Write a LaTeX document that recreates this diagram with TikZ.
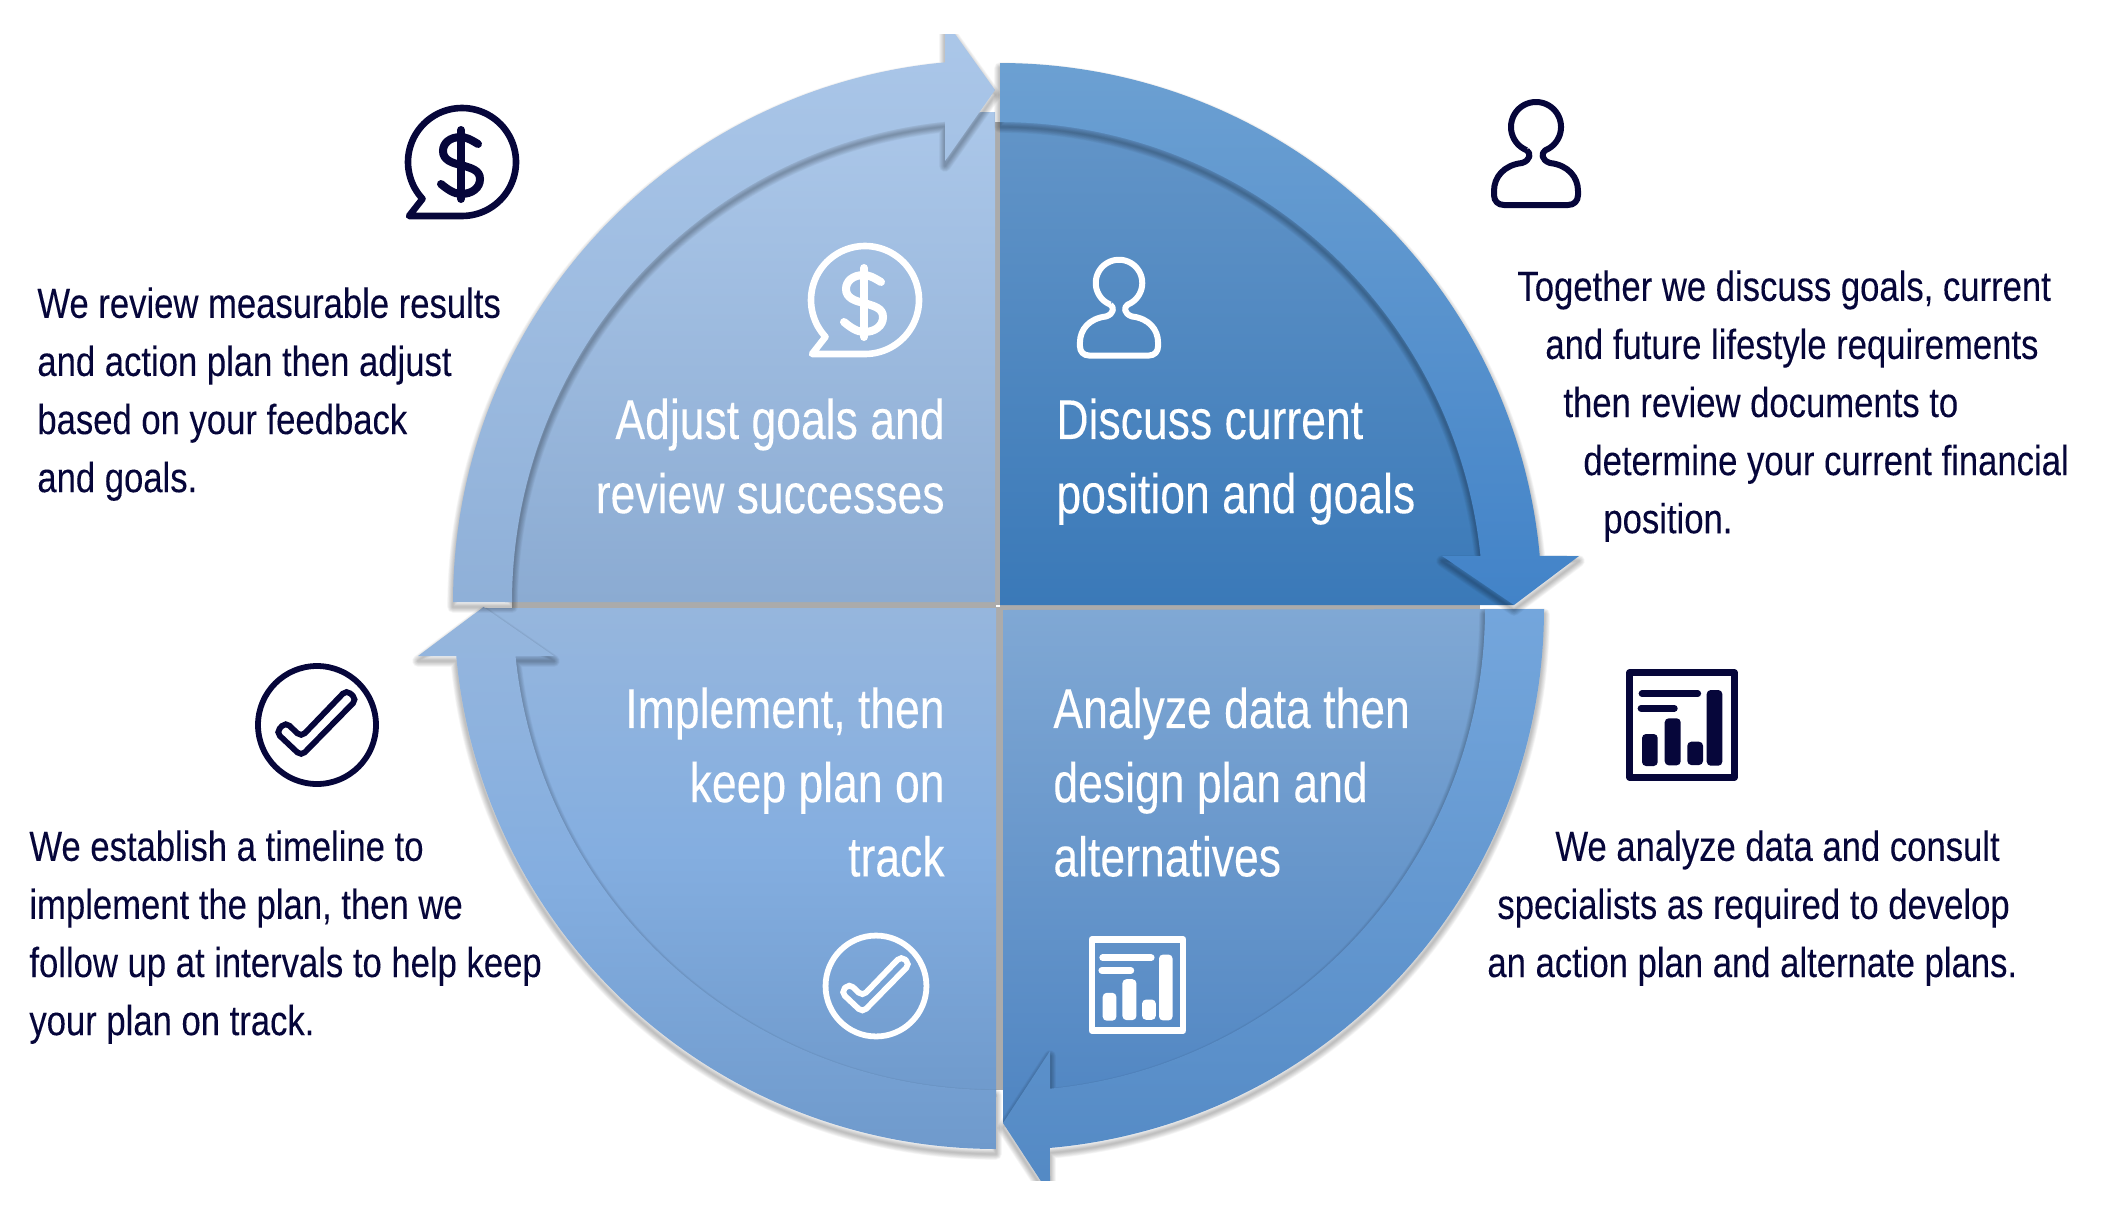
\documentclass[tikz,border=0pt]{standalone}
\usepackage{fontspec}
\setmainfont[FakeStretch=0.795,FakeBold=0.1]{Liberation Sans}
\newfontfamily\descfont[FakeStretch=0.825,FakeBold=0.1]{Liberation Sans}
\definecolor{navy}{HTML}{06063A}
\definecolor{sepgray}{HTML}{ABABAB}
\definecolor{trqa}{HTML}{6395C8}\definecolor{trqb}{HTML}{3A79B8}
\definecolor{trba}{HTML}{6CA0D2}\definecolor{trbb}{HTML}{4283C8}
\definecolor{tlqa}{HTML}{ABC7E9}\definecolor{tlqb}{HTML}{8BABD2}
\definecolor{tlba}{HTML}{ABC7E9}\definecolor{tlbb}{HTML}{8FB0D8}
\definecolor{blqa}{HTML}{96B6DD}\definecolor{blqm}{HTML}{84AEE0}\definecolor{blqb}{HTML}{6F9ACC}
\definecolor{brqa}{HTML}{80A8D4}\definecolor{brqb}{HTML}{4F85C2}
\definecolor{brba}{HTML}{74A6DC}\definecolor{brbb}{HTML}{5389C4}
% arcs: centre x, centre y, radius, from, to (screen angles, y points down)
\newcommand{\arcplot}[5]{plot[domain=#4:#5,samples=90] ({#1+#3*cos(\unexpanded{\x})},{#2+#3*sin(\unexpanded{\x})})}
\edef\quadTR{(1000,605) -- \arcplot{1000}{605}{490}{270}{354} -- (1514,605) -- cycle}
\edef\bandTR{\arcplot{1000}{605}{542}{270}{354.81} -- (1579,556) -- (1514,605) -- (1442,556) -- \arcplot{1000}{605}{483}{354.18}{270} -- cycle}
\edef\quadTL{(995,602) -- \arcplot{995}{602}{490}{180}{270} -- cycle}
\edef\bandTL{\arcplot{995}{602}{542}{180}{264.71} -- (945,20) -- (995,90) -- (945,161) -- \arcplot{995}{602}{483}{264.06}{180} -- cycle}
\edef\quadBL{(996,608) -- (484,608) -- \arcplot{996}{607}{490}{174}{90} -- cycle}
\edef\bandBL{\arcplot{996}{607}{542}{90}{174.81} -- (418,656) -- (483.5,607) -- (554,656) -- \arcplot{996}{607}{483}{174.18}{90} -- cycle}
\edef\quadBR{(1003,610) -- \arcplot{1003}{609}{489}{0}{86} -- (1003,1123) -- cycle}
\edef\bandBR{\arcplot{1003}{609}{541}{0}{85.02} -- (1050,1195) -- (1003,1123) -- (1050,1051) -- \arcplot{1003}{609}{482}{84.4}{0} -- cycle}
\edef\bubblePath{\arcplot{0}{0}{54}{90}{-223} -- (-53,54) -- cycle}
\edef\personPath{\arcplot{0}{0}{25}{112}{428} .. controls (5,26) and (5,33) .. (14,36) .. controls (32,38) and (42,50) .. (42,64) -- (42,68) .. controls (42,74) and (38,78) .. (32,78) -- (-32,78) .. controls (-38,78) and (-42,74) .. (-42,68) -- (-42,64) .. controls (-42,50) and (-32,38) .. (-14,36) .. controls (-5,33) and (-5,26) .. (-9.4,23.2)}
\newcommand{\softshadow}[1]{\foreach \w in {1,2,...,9}{\path[draw=black,draw opacity=.03,line width=\w*.65pt,line join=round,shift={(0,5)}] #1;}}
\tikzset{
  bigtext/.style={font=\fontsize{28}{37.1}\selectfont,text=white,inner sep=0pt},
  desctext/.style={font=\descfont\fontsize{21}{29.05}\selectfont,text=navy,inner sep=0pt,align=left,anchor=north west},
  sepstrip/.style={fill=sepgray},
  pics/dollarico/.style={code={
    \draw[line width=3.3pt,line join=round] \bubblePath;
    \draw[line width=4pt,line cap=round] (-1,-32) -- (-1,37);
    \draw[line width=4pt,line cap=round] (16,-18) .. controls (8,-23) and (3,-25) .. (-1,-25) .. controls (-12,-25) and (-19,-19) .. (-19,-11) .. controls (-19,-2) and (-10,1) .. (-1,3) .. controls (9,6) and (18,8) .. (18,17) .. controls (18,26) and (10,32) .. (-1,32) .. controls (-8,32) and (-15,27) .. (-21,22);
  }},
  pics/personico/.style={code={
    \draw[line width=3pt,line join=round] \personPath;
  }},
  pics/chartico/.style={code={
    \draw[line width=3.4pt,line join=round] (-52.3,-52.3) rectangle (52.3,52.3);
    \fill[rounded corners=2pt] (-40,9) rectangle (-24.3,41);
    \fill[rounded corners=2pt] (-17.3,-6.7) rectangle (-1.3,40.3);
    \fill[rounded corners=2pt] (5.3,16.7) rectangle (21,40);
    \fill[rounded corners=2pt] (24.7,-35) rectangle (40.3,40.7);
    \draw[line width=3.4pt,line cap=round] (-40,-31.3) -- (15.7,-31.3);
    \draw[line width=3.4pt,line cap=round] (-41,-16.7) -- (-7.7,-16.7);
  }},
  pics/checkico/.style={code={
    \draw[line width=2.9pt] (0,0) circle[radius=59];
    \draw[line width=2.9pt,rounded corners=2.6pt] (-15.8,12) -- (29.5,-35.1) -- (39.7,-25.6) -- (-15.8,31) -- (-40.9,7.3) -- (-31.3,-2.9) -- cycle;
  }},
}
\begin{document}
\begin{tikzpicture}[x=0.5pt,y=-0.5pt]
\useasboundingbox (0,0) rectangle (2103,1226);
\begin{scope}
\clip (0,34) rectangle (2103,1180);
% grey separators between the quadrants
\path[sepstrip] (512,602) rectangle (996,608);
\path[sepstrip] (1000,605) rectangle (1480,610);
\path[sepstrip] (995,122) rectangle (1000,605);
\path[sepstrip] (996,607) rectangle (1003,1090);
% quadrants
\shade[top color=tlqa,bottom color=tlqb] \quadTL;
\shade[top color=trqa,bottom color=trqb] \quadTR;
\shade[top color=blqa,bottom color=blqb,middle color=blqm] \quadBL;
\shade[top color=brqa,bottom color=brqb] \quadBR;
% circular bands
\softshadow{\bandBR}
\shade[top color=brba,bottom color=brbb] \bandBR;
\softshadow{\bandBL}
\shade[top color=blqa,bottom color=blqb,middle color=blqm] \bandBL;
\softshadow{\bandTL}
\shade[top color=tlba,bottom color=tlbb] \bandTL;
\softshadow{\bandTR}
\shade[top color=trba,bottom color=trbb] \bandTR;
\end{scope}
% icons outside the circle
\pic[color=navy] at (462,162) {dollarico};
\pic[color=navy] at (1536,127) {personico};
\pic[color=navy] at (1682,725) {chartico};
\pic[color=navy] at (317,725) {checkico};
% icons inside the circle
\pic[color=white] at (865,300) {dollarico};
\pic[color=white,scale=.93] at (1119,283) {personico};
\pic[color=white,scale=.87] at (1137.5,985) {chartico};
\pic[color=white,scale=.855] at (876,986) {checkico};
% quadrant titles
\node[bigtext,align=right,anchor=north east] (titleTL) at (945,398) {Adjust goals and\\review successes};
\node[bigtext,align=left,anchor=north west] (titleTR) at (1056,398) {Discuss current\\position and goals};
\node[bigtext,align=right,anchor=north east] (titleBL) at (945,687) {Implement, then\\keep plan on\\track};
\node[bigtext,align=left,anchor=north west] (titleBR) at (1053,687) {Analyze data then\\design plan and\\alternatives};
% descriptions
\node[desctext] (descTL) at (37,287) {We review measurable results\\and action plan then adjust\\based on your feedback\\and goals.};
\node[desctext] (descTR) at (1517,270) {Together we discuss goals, current\\\hspace*{14pt}and future lifestyle requirements\\\hspace*{23pt}then review documents to\\\hspace*{33pt}determine your current financial\\\hspace*{43pt}position.};
\node[desctext] (descBL) at (29,830) {We establish a timeline to\\implement the plan, then we\\follow up at intervals to help keep\\your plan on track.};
\node[desctext] (descBR) at (1487,830) {\hspace*{34pt}We analyze data and consult\\\hspace*{5pt}specialists as required to develop\\an action plan and alternate plans.};
\end{tikzpicture}
\end{document}
